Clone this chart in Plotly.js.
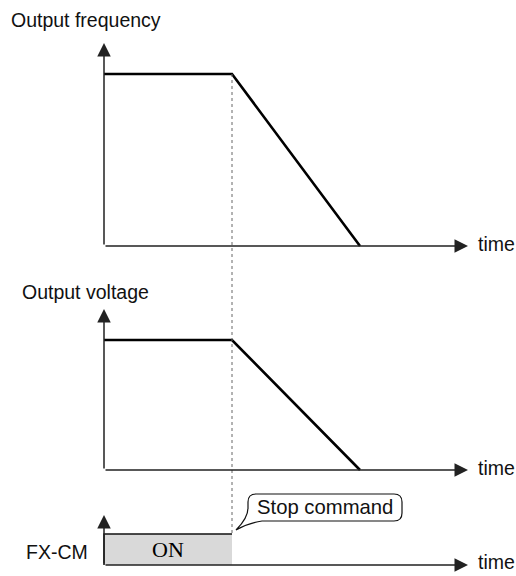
<!DOCTYPE html>
<html>
<head>
<meta charset="utf-8">
<script src="https://cdn.plot.ly/plotly-3.0.1.min.js"></script>
<style>html,body{margin:0;padding:0;background:#fff;}#chart{width:516px;height:576px;}</style>
</head>
<body>
<div id="chart"></div>
<script>
// ---- data ----
const timeSec = [0, 4, 8];
const freqPct = [100, 100, 0];
const voltPct = [100, 100, 0];
const fxcmTime = [0, 0, 4, 4];
const fxcmState = [0, 1, 1, 0];
const stopTime = 4;
const panelTitles = ["Output frequency", "Output voltage"];
const signalName = "FX-CM";
const onLabel = "ON";
const axisLabel = "time";
const calloutText = "Stop command";

// ---- geometry ----
const W = 516, H = 576;
const SANS = '"Liberation Sans", Arial, sans-serif';
const SERIF = '"Liberation Serif", "Times New Roman", serif';
function rangeX(pxA, vA, pxB, vB) { const s = (pxB - pxA) / (vB - vA); return [vA - pxA / s, vA + (W - pxA) / s]; }
function rangeY(pxA, vA, pxB, vB) { const s = (pxA - pxB) / (vB - vA); return [vA - (H - pxA) / s, vA + pxA / s]; }
function xv(px, r) { return r[0] + (r[1] - r[0]) * px / W; }
function yv(py, r) { return r[0] + (r[1] - r[0]) * (1 - py / H); }
function px(x) { return x / W; }
function py(y) { return 1 - y / H; }

const xr = rangeX(104, 0, 232, stopTime);
const y1r = rangeY(246, 0, 74, 100);
const y2r = rangeY(470, 0, 340, 100);
const y3r = rangeY(565, 0, 534, 1);

const xTip = xv(468, xr);
const tips = [yv(43, y1r), yv(309, y2r), yv(515, y3r)];

const traces = [
  {x: fxcmTime, y: fxcmState, xaxis: 'x', yaxis: 'y3', mode: 'lines', fill: 'toself',
   fillcolor: '#d9d9d9', line: {width: 0, color: 'rgba(0,0,0,0)'}, hoverinfo: 'skip'},
  {x: fxcmTime.slice(0, 3), y: fxcmState.slice(0, 3), xaxis: 'x', yaxis: 'y3', mode: 'lines',
   line: {width: 1.5, color: '#111'}, hoverinfo: 'skip'},
  {x: timeSec, y: freqPct, xaxis: 'x', yaxis: 'y', mode: 'lines',
   line: {width: 2.6, color: '#000'}, hoverinfo: 'skip'},
  {x: timeSec, y: voltPct, xaxis: 'x', yaxis: 'y2', mode: 'lines',
   line: {width: 2.6, color: '#000'}, hoverinfo: 'skip'}
];

const axRefs = ['y', 'y2', 'y3'];
const annotations = [];
axRefs.forEach((yr, i) => {
  annotations.push({x: xTip, y: 0, ax: 0, ay: 0, xref: 'x', yref: yr, axref: 'x', ayref: yr,
    text: '', showarrow: true, arrowhead: 2, arrowsize: 1.8, arrowwidth: 1.5, arrowcolor: '#222', standoff: 0});
  annotations.push({x: 0, y: tips[i], ax: 0, ay: 0, xref: 'x', yref: yr, axref: 'x', ayref: yr,
    text: '', showarrow: true, arrowhead: 2, arrowsize: 1.8, arrowwidth: 1.5, arrowcolor: '#222', standoff: 0});
});
const textFont = {family: SANS, size: 19.5, color: '#111'};
annotations.push(
  {x: px(9), y: py(20), xref: 'paper', yref: 'paper', xanchor: 'left', yanchor: 'middle', text: panelTitles[0], showarrow: false, font: textFont},
  {x: px(20), y: py(292), xref: 'paper', yref: 'paper', xanchor: 'left', yanchor: 'middle', text: panelTitles[1], showarrow: false, font: textFont},
  {x: px(476), y: py(244), xref: 'paper', yref: 'paper', xanchor: 'left', yanchor: 'middle', text: axisLabel, showarrow: false, font: textFont},
  {x: px(476), y: py(468), xref: 'paper', yref: 'paper', xanchor: 'left', yanchor: 'middle', text: axisLabel, showarrow: false, font: textFont},
  {x: px(476), y: py(562), xref: 'paper', yref: 'paper', xanchor: 'left', yanchor: 'middle', text: axisLabel, showarrow: false, font: textFont},
  {x: px(24), y: py(552), xref: 'paper', yref: 'paper', xanchor: 'left', yanchor: 'middle', text: signalName, showarrow: false, font: textFont},
  {x: stopTime / 2, y: 0.5, xref: 'x', yref: 'y3', xanchor: 'center', yanchor: 'middle', text: onLabel, showarrow: false,
   font: {family: SERIF, size: 22, color: '#000'}},
  {x: px(325), y: py(507), xref: 'paper', yref: 'paper', xanchor: 'center', yanchor: 'middle', text: calloutText, showarrow: false,
   font: {family: SANS, size: 20.3, color: '#111'}}
);

function P(x, y) { return px(x).toFixed(5) + ',' + py(y).toFixed(5); }
const L = 248, R = 402, T = 494, B = 521, r = 8;
const bubble = 'M' + P(L + r, T) + ' L' + P(R - r, T) + ' Q' + P(R, T) + ' ' + P(R, T + r) +
  ' L' + P(R, B - r) + ' Q' + P(R, B) + ' ' + P(R - r, B) +
  ' L' + P(262, B) + ' Q' + P(248, B + 2) + ' ' + P(236, 530) +
  ' Q' + P(248, 518) + ' ' + P(L, 508) +
  ' L' + P(L, T + r) + ' Q' + P(L, T) + ' ' + P(L + r, T) + ' Z';

const shapes = [
  {type: 'line', xref: 'x', yref: 'paper', x0: stopTime, x1: stopTime, y0: py(74), y1: py(534),
   line: {color: '#666', width: 1, dash: 'dot'}},
  {type: 'path', xref: 'paper', yref: 'paper', path: bubble, fillcolor: '#fff', line: {color: '#111', width: 1.2}}
];

const hidden = {visible: false, showgrid: false, zeroline: false, fixedrange: true};
const layout = {
  width: W, height: H, autosize: false,
  margin: {l: 0, r: 0, t: 0, b: 0, pad: 0},
  paper_bgcolor: '#fff', plot_bgcolor: 'rgba(0,0,0,0)',
  showlegend: false,
  xaxis: Object.assign({}, hidden, {range: xr, domain: [0, 1]}),
  yaxis: Object.assign({}, hidden, {range: y1r, domain: [0, 1]}),
  yaxis2: Object.assign({}, hidden, {range: y2r, overlaying: 'y', anchor: 'x'}),
  yaxis3: Object.assign({}, hidden, {range: y3r, overlaying: 'y', anchor: 'x'}),
  annotations: annotations,
  shapes: shapes
};
Plotly.newPlot('chart', traces, layout, {staticPlot: true, displayModeBar: false});
</script>
</body>
</html>
